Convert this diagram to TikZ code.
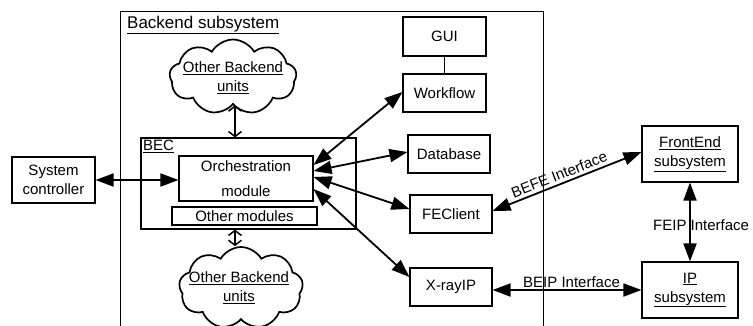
\documentclass[tikz,border=0pt]{standalone}
\usepackage{fontspec}
\setmainfont{Liberation Sans}
\usetikzlibrary{arrows.meta,shapes.symbols}
\begin{document}
\begin{tikzpicture}[x=1pt,y=-1pt,
  box/.style={draw, line width=1.1pt, inner sep=0pt, align=center,
    font=\fontsize{15}{19}\selectfont},
  lbl/.style={inner sep=0pt, font=\fontsize{15}{19}\selectfont},
  dbl/.style={line width=1.8pt,
    {Triangle[length=18pt,width=13pt]}-{Triangle[length=18pt,width=13pt]}},
  barb/.style={line width=1.5pt,
    {Straight Barb[length=5pt,width=13pt]}-{Straight Barb[length=5pt,width=13pt]}},
  cloudy/.style={draw, cloud, cloud puffs=9, cloud puff arc=120,
    cloud ignores aspect, line width=1.7pt, inner sep=0pt}]
\useasboundingbox (0,0) rectangle (753,325);
\clip (0,0) rectangle (753,325);
\fill[white] (0,0) rectangle (753,325);
% backend subsystem frame
\draw[line width=1pt] (120,335) -- (120,11) -- (543,11) -- (543,335);
\node[lbl, anchor=west, font=\fontsize{17}{20}\selectfont] (title) at (127,25) {\underline{Backend subsystem}};
% BEC
\node[box, minimum width=215pt, minimum height=91pt] (bec) at (248.5,183.5) {};
\node[lbl, anchor=west] (beclbl) at (143,146) {\underline{BEC}};
\node[box, minimum width=134pt, minimum height=45pt, font=\fontsize{15}{25}\selectfont] (orch) at (246,178.5) {Orchestration\\module};
\node[box, minimum width=145pt, minimum height=18pt] (othermod) at (244.5,216) {Other modules};
% clouds
\node[cloudy, minimum width=127pt, minimum height=75pt] (cloudA) at (233,77) {};
\node[lbl, align=center] (cloudAtext) at (233,78) {\underline{Other Backend}\\\underline{units}};
\node[cloudy, minimum width=124pt, minimum height=82pt] (cloudB) at (241,288) {};
\node[lbl, align=center] (cloudBtext) at (239,288) {\underline{Other Backend}\\\underline{units}};
% left
\node[box, minimum width=83pt, minimum height=46pt] (sysctl) at (53.5,180) {System\\controller};
% right column
\node[box, minimum width=83pt, minimum height=39pt] (gui) at (444.5,36.5) {GUI};
\node[box, minimum width=83pt, minimum height=38pt] (workflow) at (444.5,93) {Workflow};
\node[box, minimum width=82pt, minimum height=38pt] (database) at (449,154) {Database};
\node[box, minimum width=82pt, minimum height=38pt] (feclient) at (451,214) {FEClient};
\node[box, minimum width=82pt, minimum height=38pt] (xray) at (451,287) {X-rayIP};
% far right
\node[box, minimum width=96pt, minimum height=56pt] (frontend) at (690,154) {\underline{FrontEnd}\\\underline{subsystem}};
\node[box, minimum width=96pt, minimum height=56pt] (ip) at (690,290) {\underline{IP}\\\underline{subsystem}};
% connectors
\draw[line width=1.1pt] (gui.south) -- (workflow.north);
\draw[barb] ([xshift=2pt]cloudA.south) -- ([xshift=2pt]cloudA.south |- bec.north);
\draw[barb] ([xshift=-6pt]bec.south -| cloudB.north) -- ([xshift=-6pt]cloudB.north);
\draw[dbl] (sysctl.east) -- (sysctl.east -| orch.west);
\draw[dbl] ([yshift=13.5pt]orch.east) -- ([yshift=1pt]workflow.west);
\draw[dbl] ([yshift=7.5pt]orch.east) -- ([yshift=2pt]database.west);
\draw[dbl] ([yshift=1.5pt]orch.east) -- ([yshift=5pt]feclient.west);
\draw[dbl] ([yshift=-10.5pt]orch.east) -- ([yshift=10pt]xray.west);
\draw[dbl] ([yshift=3pt]feclient.east) -- node[lbl, sloped, above=3pt, pos=0.47] (befe) {BEFE Interface} ([yshift=2pt]frontend.west);
\draw[dbl] (ip.west) -- (ip.west -| xray.east);
\node[lbl, anchor=base west] (beip) at (523,287) {BEIP Interface};
\draw[dbl] (frontend.south) -- (ip.north);
\node[lbl, anchor=base west] (feip) at (653,230) {FEIP Interface};
\end{tikzpicture}
\end{document}
